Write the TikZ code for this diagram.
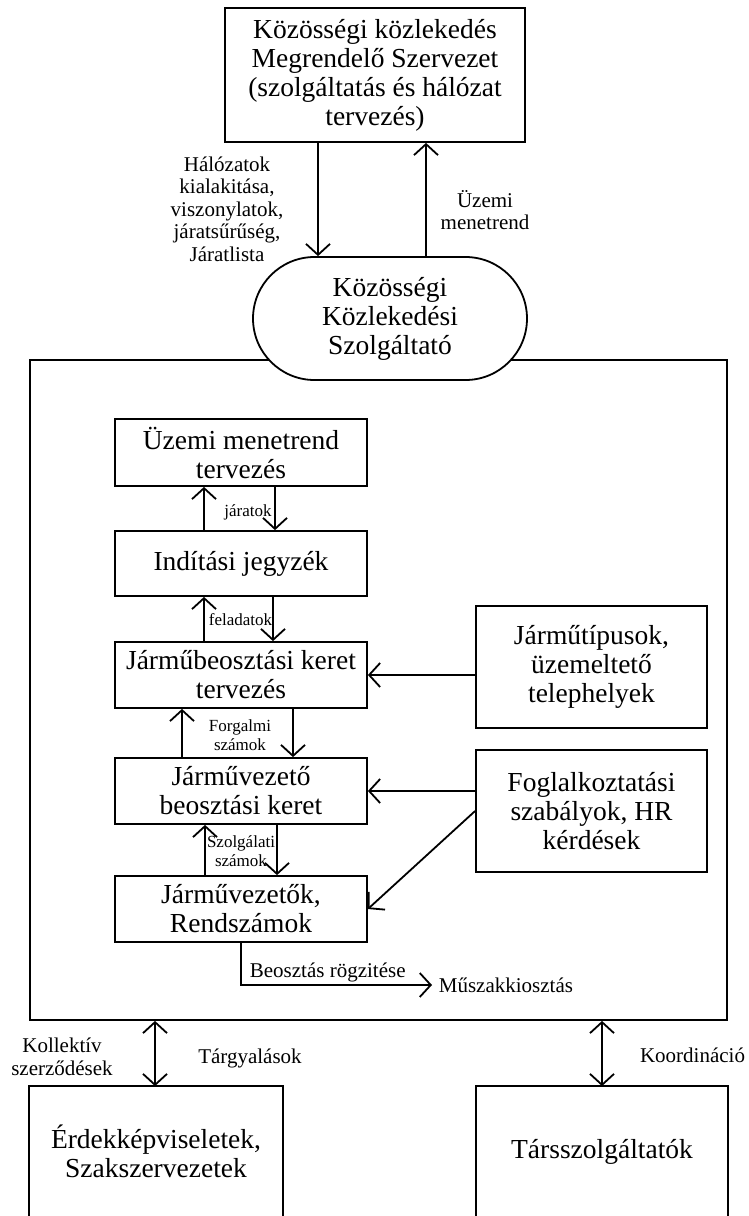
\documentclass[tikz,border=0pt]{standalone}
\usepackage{fontspec}
\setmainfont{Liberation Serif}
\usetikzlibrary{arrows.meta,shapes.misc}
\begin{document}
\begin{tikzpicture}[x=1pt,y=-1pt,
  line width=1.8pt,
  big/.style={align=center, inner sep=0pt, font=\fontsize{27.5}{29}\selectfont},
  box/.style={big, draw, rectangle},
  lbl/.style={align=center, inner sep=0pt, font=\fontsize{21}{22.5}\selectfont},
  small/.style={align=center, inner sep=0pt, font=\fontsize{17}{18.5}\selectfont},
  tip/.tip={Straight Barb[length=11pt,width=24pt]},
  arr/.style={-tip},
  darr/.style={tip-tip}
]
\useasboundingbox (0,0) rectangle (748,1216);

% ordering organisation
\node[box, minimum width=300pt, minimum height=134pt] (mso) at (375,75)
  {Közösségi közlekedés\\Megrendelő Szervezet\\(szolgáltatás és hálózat\\tervezés)};

% provider frame, drawn before the terminator so it sits underneath
\node[draw, rectangle, inner sep=0pt, minimum width=697pt, minimum height=660pt] (kksz) at (378.5,690) {};

\node[big, draw, fill=white, rounded rectangle, minimum width=274pt, minimum height=123pt] (szolg) at (390,318.5)
  {Közösségi\\Közlekedési\\Szolgáltató};

% links between orderer and provider
\coordinate (xa) at (318,0);
\coordinate (xb) at (426,0);
\draw[arr] (mso.south -| xa) -- (szolg.north -| xa);
\draw[arr] (szolg.north -| xb) -- (mso.south -| xb);
\node[lbl] (hal) at (227,209) {Hálózatok\\kialakitása,\\viszonylatok,\\járatsűrűség,\\Járatlista};
\node[lbl] (uzm) at (485,210) {Üzemi\\menetrend};

% planning chain
\node[box, minimum width=252pt, minimum height=67pt] (b1) at (241,452.5) {Üzemi menetrend\\tervezés};
\node[box, minimum width=252pt, minimum height=65pt] (b2) at (241,563.5) {Indítási jegyzék};
\node[box, minimum width=252pt, minimum height=66pt] (b3) at (241,675) {Járműbeosztási keret\\tervezés};
\node[box, minimum width=252pt, minimum height=66pt] (b4) at (241,791) {Járművezető\\beosztási keret};
\node[box, minimum width=252pt, minimum height=66pt] (b5) at (241,909) {Járművezetők,\\Rendszámok};

\coordinate (u1) at (204,0); \coordinate (d1) at (275,0);
\coordinate (u2) at (204,0); \coordinate (d2) at (273,0);
\coordinate (u3) at (182,0); \coordinate (d3) at (293,0);
\coordinate (u4) at (205,0); \coordinate (d4) at (277,0);

\draw[arr] (b2.north -| u1) -- (b1.south -| u1);
\draw[arr] (b1.south -| d1) -- (b2.north -| d1);
\draw[arr] (b3.north -| u2) -- (b2.south -| u2);
\draw[arr] (b2.south -| d2) -- (b3.north -| d2);
\draw[arr] (b4.north -| u3) -- (b3.south -| u3);
\draw[arr] (b3.south -| d3) -- (b4.north -| d3);
\draw[arr] (b5.north -| u4) -- (b4.south -| u4);
\draw[arr] (b4.south -| d4) -- (b5.north -| d4);

\node[small] (jaratok) at (248,512) {járatok};
\node[small] (felad) at (240.5,620) {feladatok};
\node[small] (forg) at (240,735) {Forgalmi\\számok};
\node[small] (szolgsz) at (241,851) {Szolgálati\\számok};

% inputs on the right
\node[box, minimum width=231pt, minimum height=122pt] (jt) at (591.5,667) {Járműtípusok,\\üzemeltető\\telephelyek};
\node[box, minimum width=231pt, minimum height=122pt] (fog) at (591.5,811) {Foglalkoztatási\\szabályok, HR\\kérdések};
\draw[arr] (jt.west |- b3.east) -- (b3.east);
\draw[arr] (fog.west |- b4.east) -- (b4.east);
\draw[arr] (fog.west) -- (b5.east);

% shift allocation output
\node[lbl, anchor=west, inner xsep=6pt] (msz) at (432,985) {Műszakkiosztás};
\draw[arr] (b5.south) |- (msz.west);
\node[lbl, anchor=base west] (rog) at (249,977) {Beosztás rögzitése};

% external partners
\node[big, minimum width=252pt, minimum height=129pt] (erd) at (156,1151.5) {Érdekképviseletek,\\Szakszervezetek};
\node[big, minimum width=250pt, minimum height=129pt] (tars) at (602,1151.5) {Társszolgáltatók};
\draw (erd.south west) |- (erd.north east) -- (erd.south east);
\draw (tars.south west) |- (tars.north east) -- (tars.south east);

\coordinate (xl) at (155,0);
\coordinate (xr) at (602,0);
\draw[darr] (kksz.south -| xl) -- (erd.north -| xl);
\draw[darr] (kksz.south -| xr) -- (tars.north -| xr);

\node[lbl] (koll) at (62,1057) {Kollektív\\szerződések};
\node[lbl] (targy) at (250,1058) {Tárgyalások};
\node[lbl] (koord) at (692.5,1055) {Koordináció};
\end{tikzpicture}
\end{document}
